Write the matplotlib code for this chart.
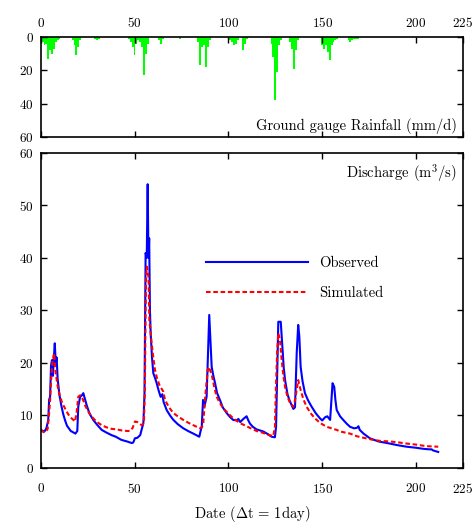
import numpy as np
import matplotlib.pyplot as plt

plt.rcParams['font.family'] = 'serif'
plt.rcParams['font.serif'] = ['cmr10', 'DejaVu Serif']
plt.rcParams['mathtext.fontset'] = 'cm'
plt.rcParams['axes.formatter.use_mathtext'] = True

# daily rainfall (mm/d), only the wet days
rain_day = [1, 2, 3, 4, 5, 6, 7, 8, 9, 10,
            17, 18, 19, 20, 21,
            29, 30, 31,
            47, 48, 49, 50, 51, 52, 53, 54, 55, 56, 57,
            63, 64, 65, 74,
            84, 85, 86, 87, 88, 89, 90,
            101, 102, 103, 104, 105, 108, 109, 110,
            123, 124, 125, 126, 127, 128,
            133, 134, 135, 136, 137,
            150, 151, 152, 153, 154, 155, 156, 157, 158,
            164, 165, 166, 167, 168, 169]
rain_mm = [3, 5, 4, 13, 8, 10, 7, 3, 2, 1,
           2, 5, 11, 6, 2,
           1, 2, 1,
           1, 3, 6, 11, 4, 2, 3, 6, 23, 10, 4,
           2, 4, 1, 1,
           3, 17, 6, 5, 18, 6, 2,
           2, 3, 5, 4, 2, 8, 4, 1,
           4, 12, 38, 21, 5, 2,
           3, 7, 19, 8, 2,
           5, 7, 5, 9, 14, 5, 3, 2, 1,
           2, 3, 2, 1, 1, 1]

# observed discharge (m3/s)
obs_day = [0, 1, 2, 3, 4, 4.5, 5, 5.5, 6, 6.5, 7, 7.5, 8, 8.5, 9, 9.5, 10, 11, 12, 13,
           14, 15, 16, 17, 18.5, 19.5, 20, 21, 22, 22.7, 23.5, 24.5, 26, 28, 30, 32.5,
           35, 37.8, 40, 43, 46, 48.5, 49.3, 50.2, 51.5, 53, 54.7, 55.3, 55.9, 56.5,
           57, 57.4, 57.8, 58.2, 58.6, 59.3, 60, 61, 61.8, 63, 63.9, 64.8, 65.5, 67.1,
           69, 70.7, 73, 76, 79, 81.3, 84.5, 85.2, 85.8, 86.5, 87.2, 88.4, 89.3, 89.8,
           90.4, 91.1, 92, 92.9, 94, 95.5, 97, 99.1, 101, 102.6, 104.5, 105.3, 106.3,
           108, 109.7, 110.5, 111.5, 113, 115, 118.6, 121, 123, 124.8, 125.4, 126.1,
           126.6, 127.9, 128.9, 129.5, 130.2, 131.5, 132.5, 134.6, 135.5, 136.4, 137.2,
           137.8, 138.5, 139.5, 140.8, 142.5, 144.4, 146.5, 148.8, 150, 151.5, 152.7,
           154.2, 155.5, 156.4, 157, 157.7, 159.5, 161.2, 163, 164.8, 167, 168.5, 169.3,
           170, 172, 175.4, 180, 186, 190, 195, 200, 203.8, 207, 208.3, 209, 211.8]
obs_q = [7.3, 7.0, 6.9, 7.5, 9.0, 13.0, 13.5, 19.5, 20.5, 17.5, 21.0, 23.7, 20.0, 21.0,
         17.0, 15.4, 13.8, 11.8, 10.2, 9.0, 8.0, 7.5, 7.0, 6.8, 6.5, 7.0, 11.6, 13.5,
         13.8, 14.2, 13.2, 11.9, 10.3, 9.1, 8.2, 7.2, 6.7, 6.2, 5.9, 5.3, 5.0, 4.7, 4.8,
         5.6, 5.7, 6.2, 8.5, 14.0, 40.9, 40.0, 54.0, 40.0, 43.7, 30.0, 25.6, 21.0, 18.0,
         17.0, 16.1, 14.5, 13.5, 14.0, 12.5, 11.0, 9.9, 9.1, 8.3, 7.5, 6.9, 6.5, 5.9,
         7.0, 7.8, 12.9, 11.6, 13.5, 23.7, 29.1, 24.4, 19.2, 17.5, 16.1, 14.2, 12.9,
         11.5, 10.4, 9.6, 9.1, 9.0, 9.3, 8.7, 9.3, 9.8, 9.1, 8.4, 7.8, 7.3, 6.9, 6.4,
         5.9, 5.8, 7.8, 19.2, 27.8, 27.8, 22.4, 19.0, 16.7, 14.0, 12.9, 11.2, 11.5,
         21.8, 27.2, 25.0, 19.2, 16.5, 14.2, 12.8, 11.6, 10.4, 9.4, 9.0, 9.6, 9.8, 9.1,
         16.1, 15.4, 13.0, 11.0, 9.8, 9.1, 8.4, 7.8, 7.5, 7.6, 7.9, 7.2, 6.5, 5.6, 5.0,
         4.6, 4.3, 4.0, 3.8, 3.6, 3.5, 3.5, 3.3, 3.0]

# simulated discharge (m3/s)
sim_day = [0, 1, 2, 3, 3.7, 4.5, 5, 5.6, 6.2, 6.7, 7.1, 7.5, 8, 8.7, 9.4, 10.3, 11.2,
           12.5, 13.8, 15, 16.5, 18.3, 19.2, 20, 21, 21.8, 22.7, 23.6, 25.5, 28, 30,
           32.5, 35, 37.8, 40.5, 43.2, 46, 47.6, 49, 50.2, 51.5, 52.6, 53.8, 55, 55.5,
           55.9, 56.2, 56.5, 57, 57.5, 57.9, 58.5, 59.1, 60, 60.9, 62, 63.6, 64.5, 65.3,
           66, 67.1, 69, 70.7, 73, 76, 79, 81.3, 84.9, 86, 86.6, 87.5, 88.3, 89, 89.6,
           90.3, 91.1, 92.5, 93.8, 95.5, 97.3, 100, 102.6, 106.2, 109.7, 112, 115, 118,
           121, 123.9, 124.8, 125.4, 126, 126.6, 127.5, 128.4, 129.3, 130.2, 131.5,
           132.9, 134.6, 135.3, 136.1, 137.2, 137.8, 138.5, 140, 141.7, 143.8, 146.1,
           149, 152.3, 155, 157.7, 159.5, 164.8, 168.4, 172, 177.2, 181, 186, 190, 195,
           200, 205.6, 211.8]
sim_q = [7.2, 6.9, 6.7, 7.0, 7.4, 10.5, 12.9, 17.0, 19.9, 21.0, 21.8, 20.0, 18.0, 16.3,
         14.8, 13.6, 12.6, 11.6, 10.7, 10.0, 9.4, 8.8, 10.7, 13.5, 13.8, 13.5, 12.8,
         11.9, 10.6, 9.4, 8.7, 8.1, 7.7, 7.4, 7.3, 7.1, 7.0, 7.0, 7.6, 8.8, 8.7, 8.4,
         8.1, 8.5, 15.0, 30.0, 36.5, 38.3, 37.5, 36.0, 28.1, 26.0, 23.7, 21.0, 18.6,
         17.0, 15.4, 15.0, 14.5, 13.3, 12.3, 11.2, 10.4, 9.8, 9.1, 8.5, 8.1, 7.5, 7.8,
         8.4, 12.9, 16.0, 18.6, 19.2, 18.5, 17.8, 15.3, 13.5, 12.3, 11.3, 10.3, 9.4,
         8.5, 7.9, 7.5, 7.0, 6.7, 6.3, 6.0, 7.8, 16.1, 22.0, 25.6, 24.3, 20.5, 17.5,
         15.4, 13.5, 12.3, 11.6, 12.5, 14.2, 16.7, 15.8, 14.8, 13.0, 11.6, 10.4, 9.4,
         8.5, 7.8, 7.5, 7.2, 6.9, 6.5, 6.0, 5.7, 5.3, 5.1, 5.0, 4.85, 4.6, 4.4, 4.1,
         4.0]

xticks = [0, 50, 100, 150, 200, 225]

fig = plt.figure(figsize=(4.75, 5.27), dpi=100)
ax1 = fig.add_axes([0.0857, 0.740, 0.889, 0.190])
ax2 = fig.add_axes([0.0857, 0.1125, 0.889, 0.5977])

# rainfall, hanging from the top
ax1.bar(rain_day, rain_mm, width=1.0, color='#00ff00', linewidth=0)
ax1.set_xlim(0, 225)
ax1.set_ylim(60, 0)
ax1.set_yticks([0, 20, 40, 60])
ax1.set_xticks(xticks)
ax1.xaxis.tick_top()
ax1.tick_params(direction='in', top=True, bottom=True, left=True, right=True,
                labeltop=True, labelbottom=False, length=4, width=1,
                labelsize=9.5, pad=5)
ax1.text(0.985, 0.03, 'Ground gauge Rainfall (mm/d)', transform=ax1.transAxes,
         ha='right', va='bottom', fontsize=10.5)

# discharge
ax2.plot(obs_day, obs_q, color='#0000ff', lw=1.5, label='Observed')
ax2.plot(sim_day, sim_q, color='#ff0000', lw=1.5, ls=(0, (2.2, 1.3)), label='Simulated')
ax2.set_xlim(0, 225)
ax2.set_ylim(0, 60)
ax2.set_xticks(xticks)
ax2.set_yticks(range(0, 61, 10))
ax2.tick_params(direction='in', top=True, bottom=True, left=True, right=True,
                length=4, width=1, labelsize=9.5, pad=5)
ax2.xaxis.set_tick_params(pad=10)
ax2.text(0.985, 0.935, 'Discharge (m$^3$/s)', transform=ax2.transAxes,
         ha='right', va='center', fontsize=10.5)
leg = ax2.legend(loc='upper left', bbox_to_anchor=(0.36, 0.712), frameon=False,
                 handlelength=7.0, handletextpad=0.8, labelspacing=1.1, fontsize=10.5)
ax2.set_xlabel(r'Date ($\Delta$t = 1day)', fontsize=10.5, labelpad=6)

for ax in (ax1, ax2):
    for s in ax.spines.values():
        s.set_linewidth(1.2)

fig.savefig('out.png', dpi=100)
